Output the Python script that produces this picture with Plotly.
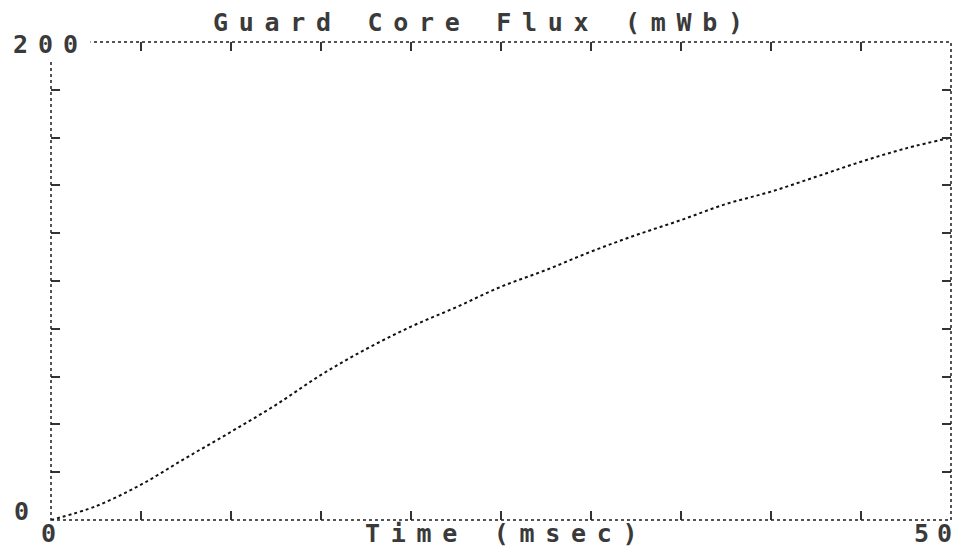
import plotly.graph_objects as go

# Guard core flux versus time
time_ms = [0, 2.5, 5, 7.5, 10, 12.5, 15, 17.5, 20, 22.5, 25,
           27.5, 30, 32.5, 35, 37.5, 40, 42.5, 45, 47.5, 50]
flux_mwb = [0, 5.8, 14.8, 26.0, 36.9, 48.2, 60.7, 71.5, 80.9, 89.0, 97.6,
            104.6, 112.3, 119.2, 125.5, 132.2, 137.4, 143.6, 149.9, 155.5, 160.0]

x_range = [0, 50]
y_range = [0, 200]
x_tick_labels = ["0", "50"]
y_tick_labels = ["0", "200"]
title_text = "Guard Core Flux (mWb)"
x_title_text = "Time (msec)"

FONT = "DejaVu Sans Mono"
INK = "#1c1c1c"
TEXT_INK = "#3a3a3a"


def spaced(s, gap=10.7):
    return f'<span style="letter-spacing:{gap}px">{s}</span>'


fig = go.Figure()
fig.add_trace(go.Scatter(
    x=time_ms, y=flux_mwb, mode="lines",
    line=dict(color="#111111", width=2, dash="dot", shape="spline"),
    hoverinfo="skip", showlegend=False,
))

axis_common = dict(
    showgrid=False, zeroline=False, showline=False,
    ticks="inside", ticklen=9, tickwidth=2, tickcolor="#333333",
    mirror="ticks", showticklabels=False,
)
fig.update_xaxes(range=x_range, dtick=5, **axis_common)
fig.update_yaxes(range=y_range, dtick=20, **axis_common)

# dotted frame around the plotting area
fig.add_shape(type="rect", xref="x domain", yref="y domain",
              x0=0, x1=1, y0=0, y1=1,
              line=dict(color=INK, width=1.5, dash="dot"), layer="above")

lab_font = dict(family=FONT, size=25, color=TEXT_INK, weight="bold")

annotations = [
    # title
    dict(text=spaced(title_text), xref="paper", yref="paper",
         x=0.481, y=1.0, yshift=20, xanchor="center", yanchor="middle",
         showarrow=False, font=lab_font),
    # x axis title
    dict(text=spaced(x_title_text), xref="paper", yref="paper",
         x=0.506, y=0.0, yshift=-13, xanchor="center", yanchor="middle",
         showarrow=False, font=lab_font),
    # x tick labels
    dict(text=spaced(x_tick_labels[0], 5), xref="x", yref="y",
         x=x_range[0], y=y_range[0], xshift=0, yshift=-13,
         xanchor="center", yanchor="middle", showarrow=False, font=lab_font),
    dict(text=spaced(x_tick_labels[1], 8), xref="x", yref="y",
         x=x_range[1], y=y_range[0], xshift=-14, yshift=-13,
         xanchor="center", yanchor="middle", showarrow=False, font=lab_font),
    # y tick labels
    dict(text=spaced(y_tick_labels[0], 5), xref="x", yref="y",
         x=x_range[0], y=y_range[0], xshift=-27, yshift=9,
         xanchor="center", yanchor="middle", showarrow=False, font=lab_font),
    dict(text=spaced(y_tick_labels[1], 10), xref="x", yref="y",
         x=x_range[0], y=y_range[1], xshift=-1, yshift=-2,
         xanchor="center", yanchor="middle", showarrow=False, font=lab_font,
         bgcolor="white", borderpad=2),
]

fig.update_layout(
    width=961, height=555,
    margin=dict(l=51, r=10, t=42, b=35),
    paper_bgcolor="white", plot_bgcolor="white",
    annotations=annotations,
    showlegend=False,
)

fig.write_html("out.html")
